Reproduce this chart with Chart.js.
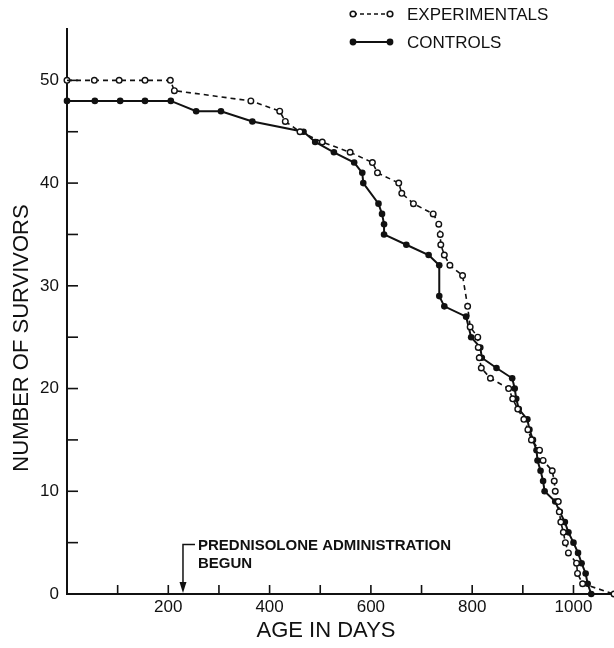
<!DOCTYPE html>
<html>
<head>
<meta charset="utf-8">
<script src="https://cdn.jsdelivr.net/npm/chart.js@4.4.1/dist/chart.umd.min.js"></script>
<style>
  html, body { margin: 0; padding: 0; background: #fff; }
  #wrap { width: 614px; height: 648px; }
</style>
</head>
<body>
<div id="wrap"><canvas id="survival" width="614" height="648"></canvas></div>
<script>
// survivors vs age
const expDays = [0, 54, 103, 154, 204, 212, 363, 420, 431, 460, 504, 559, 603, 613, 655, 661, 684, 723, 734, 737, 738, 745, 756, 781, 791, 796, 811, 812, 814, 818, 836, 872, 880, 890, 902, 910, 917, 933, 940, 958, 962, 964, 970, 972, 975, 980, 984, 990, 1006, 1008, 1018, 1080];
const expAlive = [50, 50, 50, 50, 50, 49, 48, 47, 46, 45, 44, 43, 42, 41, 40, 39, 38, 37, 36, 35, 34, 33, 32, 31, 28, 26, 25, 24, 23, 22, 21, 20, 19, 18, 17, 16, 15, 14, 13, 12, 11, 10, 9, 8, 7, 6, 5, 4, 3, 2, 1, 0];

const ctlDays = [0, 55, 105, 154, 205, 255, 304, 366, 467, 490, 527, 567, 583, 585, 615, 622, 626, 626, 670, 714, 735, 735, 745, 788, 798, 816, 819, 848, 879, 884, 887, 892, 909, 913, 920, 927, 929, 935, 940, 943, 964, 973, 983, 990, 1000, 1009, 1016, 1024, 1028, 1035];
const ctlAlive = [48, 48, 48, 48, 48, 47, 47, 46, 45, 44, 43, 42, 41, 40, 38, 37, 36, 35, 34, 33, 32, 29, 28, 27, 25, 24, 23, 22, 21, 20, 19, 18, 17, 16, 15, 14, 13, 12, 11, 10, 9, 8, 7, 6, 5, 4, 3, 2, 1, 0];

const xLabels = [200, 400, 600, 800, 1000];
const yLabels = [0, 10, 20, 30, 40, 50];
const drugStartDay = 229;

const FONT = "'Liberation Sans', Arial, sans-serif";

function pairs(xs, ys) {
  return xs.map((x, i) => ({ x, y: ys[i] }));
}

// inward tick marks, legend, annotation and axis titles
const extras = {
  id: "extras",
  afterDraw(chart) {
    const { ctx, chartArea, scales: { x, y } } = chart;
    ctx.save();
    ctx.strokeStyle = "#111";
    ctx.lineWidth = 1.6;

    // y ticks every 5
    for (let v = 5; v <= 50; v += 5) {
      const py = y.getPixelForValue(v);
      ctx.beginPath();
      ctx.moveTo(chartArea.left, py);
      ctx.lineTo(chartArea.left + 11, py);
      ctx.stroke();
    }
    // x ticks every 100
    for (let v = 100; v <= 1000; v += 100) {
      const px = x.getPixelForValue(v);
      ctx.beginPath();
      ctx.moveTo(px, chartArea.bottom);
      ctx.lineTo(px, chartArea.bottom - 9);
      ctx.stroke();
    }

    // arrow for start of treatment
    const ax = x.getPixelForValue(drugStartDay);
    const aTop = y.getPixelForValue(5.1);
    const aBot = chartArea.bottom - 1;
    ctx.lineWidth = 1.5;
    ctx.beginPath();
    ctx.moveTo(ax + 12, aTop + 3);
    ctx.lineTo(ax, aTop + 3);
    ctx.lineTo(ax, aBot - 8);
    ctx.stroke();
    ctx.fillStyle = "#111";
    ctx.beginPath();
    ctx.moveTo(ax - 3.5, aBot - 11);
    ctx.lineTo(ax + 3.5, aBot - 11);
    ctx.lineTo(ax, aBot);
    ctx.closePath();
    ctx.fill();

    ctx.font = "bold 15px " + FONT;
    ctx.textAlign = "left";
    ctx.textBaseline = "middle";
    ctx.fillText("PREDNISOLONE ADMINISTRATION", ax + 15, aTop + 4);
    ctx.fillText("BEGUN", ax + 15, aTop + 22);

    // legend
    const lx0 = 353, lx1 = 390;
    ctx.lineWidth = 1.6;
    ctx.setLineDash([4, 3]);
    ctx.beginPath();
    ctx.moveTo(lx0, 14);
    ctx.lineTo(lx1, 14);
    ctx.stroke();
    ctx.setLineDash([]);
    [lx0, lx1].forEach(px => {
      ctx.beginPath();
      ctx.arc(px, 14, 2.8, 0, Math.PI * 2);
      ctx.fillStyle = "#fff";
      ctx.fill();
      ctx.stroke();
    });
    ctx.lineWidth = 2;
    ctx.beginPath();
    ctx.moveTo(lx0, 42);
    ctx.lineTo(lx1, 42);
    ctx.stroke();
    ctx.fillStyle = "#111";
    [lx0, lx1].forEach(px => {
      ctx.beginPath();
      ctx.arc(px, 42, 3.4, 0, Math.PI * 2);
      ctx.fill();
    });
    ctx.font = "17px " + FONT;
    ctx.fillText("EXPERIMENTALS", 407, 15);
    ctx.fillText("CONTROLS", 407, 43);

    // axis titles
    ctx.textAlign = "center";
    ctx.font = "22px " + FONT;
    ctx.fillText("AGE IN DAYS", 326, 631);
    ctx.translate(22, 338);
    ctx.rotate(-Math.PI / 2);
    ctx.fillText("NUMBER OF SURVIVORS", 0, 0);
    ctx.restore();
  }
};

new Chart(document.getElementById("survival"), {
  type: "scatter",
  data: {
    datasets: [
      {
        label: "EXPERIMENTALS",
        data: pairs(expDays, expAlive),
        showLine: true,
        borderColor: "#111",
        borderWidth: 1.6,
        borderDash: [5, 4],
        pointRadius: 2.8,
        pointBorderWidth: 1.4,
        pointBackgroundColor: "#fff",
        pointBorderColor: "#111",
        clip: false
      },
      {
        label: "CONTROLS",
        data: pairs(ctlDays, ctlAlive),
        showLine: true,
        borderColor: "#111",
        borderWidth: 2,
        pointRadius: 3.3,
        pointBorderWidth: 0,
        pointBackgroundColor: "#111",
        clip: false
      }
    ]
  },
  options: {
    responsive: false,
    animation: false,
    layout: { autoPadding: false, padding: { top: 29, right: 0, left: 0, bottom: 0 } },
    plugins: { legend: { display: false }, tooltip: { enabled: false } },
    scales: {
      x: {
        type: "linear",
        min: 0,
        max: 1080,
        afterFit: s => { s.height = 54; },
        grid: { display: false, drawTicks: false },
        border: { display: true, color: "#111", width: 2 },
        ticks: {
          stepSize: 100,
          includeBounds: false,
          padding: 3,
          color: "#111",
          font: { family: FONT, size: 17 },
          maxRotation: 0,
          autoSkip: false,
          callback: v => (xLabels.includes(v) ? String(v) : "")
        }
      },
      y: {
        type: "linear",
        min: 0,
        max: 55,
        afterFit: s => { s.width = 67; },
        grid: { display: false, drawTicks: false },
        border: { display: true, color: "#111", width: 2 },
        ticks: {
          stepSize: 5,
          includeBounds: false,
          padding: 8,
          color: "#111",
          font: { family: FONT, size: 17 },
          autoSkip: false,
          callback: v => (yLabels.includes(v) ? String(v) : "")
        }
      }
    }
  },
  plugins: [extras]
});
</script>
</body>
</html>
